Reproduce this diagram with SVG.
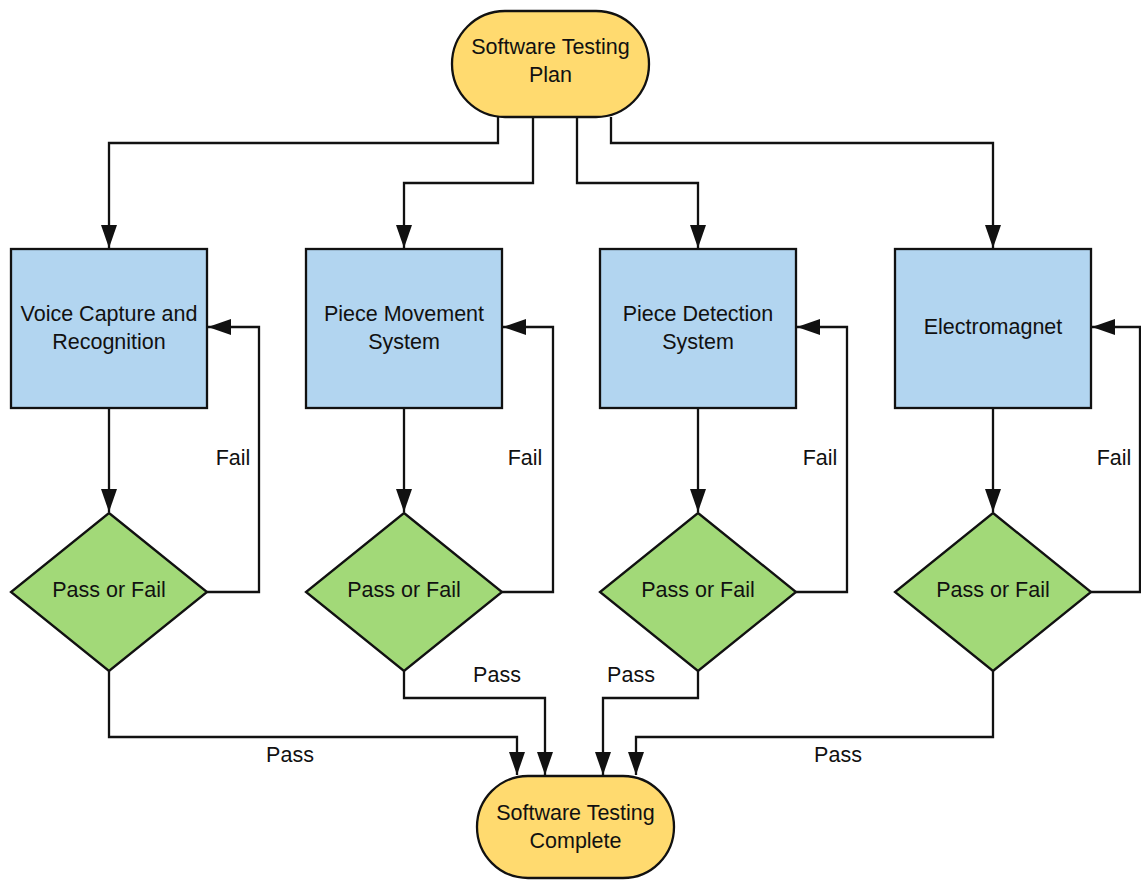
<svg xmlns="http://www.w3.org/2000/svg" width="1141" height="880" viewBox="0 0 1141 880">
  <style>
    .term { fill: #ffda6f; stroke: #111; stroke-width: 2.3; }
    .proc { fill: #b2d5f0; stroke: #111; stroke-width: 2.3; }
    .dec  { fill: #a2d978; stroke: #111; stroke-width: 2.3; }
    .wire { fill: none; stroke: #111; stroke-width: 2.3; marker-end: url(#arrow); }
    text  { font-family: "Liberation Sans", Arial, sans-serif; font-size: 21.5px; fill: #111; text-anchor: middle; }
  </style>
  <defs>
    <marker id="arrow" markerUnits="userSpaceOnUse" markerWidth="23" markerHeight="16" refX="23" refY="8" orient="auto">
      <path d="M0,0 L23,8 L0,16 z" fill="#111"/>
    </marker>
  </defs>

  <!-- connectors -->
  <g id="connectors">
    <!-- plan to each subsystem -->
    <path class="wire" d="M498,117 V143 H109 V248"/>
    <path class="wire" d="M533,117 V183 H404 V248"/>
    <path class="wire" d="M577,117 V183 H698 V248"/>
    <path class="wire" d="M611,117 V143 H993 V248"/>
    <!-- subsystem to decision -->
    <path class="wire" d="M109,408 V512"/>
    <path class="wire" d="M404,408 V512"/>
    <path class="wire" d="M698,408 V512"/>
    <path class="wire" d="M993,408 V512"/>
    <!-- fail loops -->
    <path class="wire" d="M207,592 H259 V327 H208"/>
    <path class="wire" d="M502,592 H553 V327 H503"/>
    <path class="wire" d="M796,592 H847 V327 H797"/>
    <path class="wire" d="M1091,592 H1140 V327 H1092"/>
    <!-- pass paths to completion -->
    <path class="wire" d="M109,671 V737 H517 V775"/>
    <path class="wire" d="M404,671 V698 H545 V775"/>
    <path class="wire" d="M698,671 V698 H603 V775"/>
    <path class="wire" d="M993,671 V737 H636 V775"/>
    <!-- labels -->
    <text x="233" y="465">Fail</text>
    <text x="525" y="465">Fail</text>
    <text x="820" y="465">Fail</text>
    <text x="1114" y="465">Fail</text>
    <text x="497" y="682">Pass</text>
    <text x="631" y="682">Pass</text>
    <text x="290" y="762">Pass</text>
    <text x="838" y="762">Pass</text>
  </g>

  <g id="plan">
    <rect class="term" x="452" y="11" width="197" height="106" rx="53"/>
    <text x="550.5" y="54">Software Testing</text>
    <text x="550.5" y="82">Plan</text>
  </g>

  <g id="voice">
    <rect class="proc" x="11" y="249" width="196" height="159"/>
    <text x="109" y="321">Voice Capture and</text>
    <text x="109" y="349">Recognition</text>
  </g>
  <g id="movement">
    <rect class="proc" x="306" y="249" width="196" height="159"/>
    <text x="404" y="321">Piece Movement</text>
    <text x="404" y="349">System</text>
  </g>
  <g id="detection">
    <rect class="proc" x="600" y="249" width="196" height="159"/>
    <text x="698" y="321">Piece Detection</text>
    <text x="698" y="349">System</text>
  </g>
  <g id="electromagnet">
    <rect class="proc" x="895" y="249" width="196" height="159"/>
    <text x="993" y="334">Electromagnet</text>
  </g>

  <g id="check-voice">
    <path class="dec" d="M109,513 L207,592 L109,671 L11,592 z"/>
    <text x="109" y="597">Pass or Fail</text>
  </g>
  <g id="check-movement">
    <path class="dec" d="M404,513 L502,592 L404,671 L306,592 z"/>
    <text x="404" y="597">Pass or Fail</text>
  </g>
  <g id="check-detection">
    <path class="dec" d="M698,513 L796,592 L698,671 L600,592 z"/>
    <text x="698" y="597">Pass or Fail</text>
  </g>
  <g id="check-electromagnet">
    <path class="dec" d="M993,513 L1091,592 L993,671 L895,592 z"/>
    <text x="993" y="597">Pass or Fail</text>
  </g>

  <g id="complete">
    <rect class="term" x="477" y="776" width="197" height="102" rx="51"/>
    <text x="575.5" y="820">Software Testing</text>
    <text x="575.5" y="848">Complete</text>
  </g>
</svg>
